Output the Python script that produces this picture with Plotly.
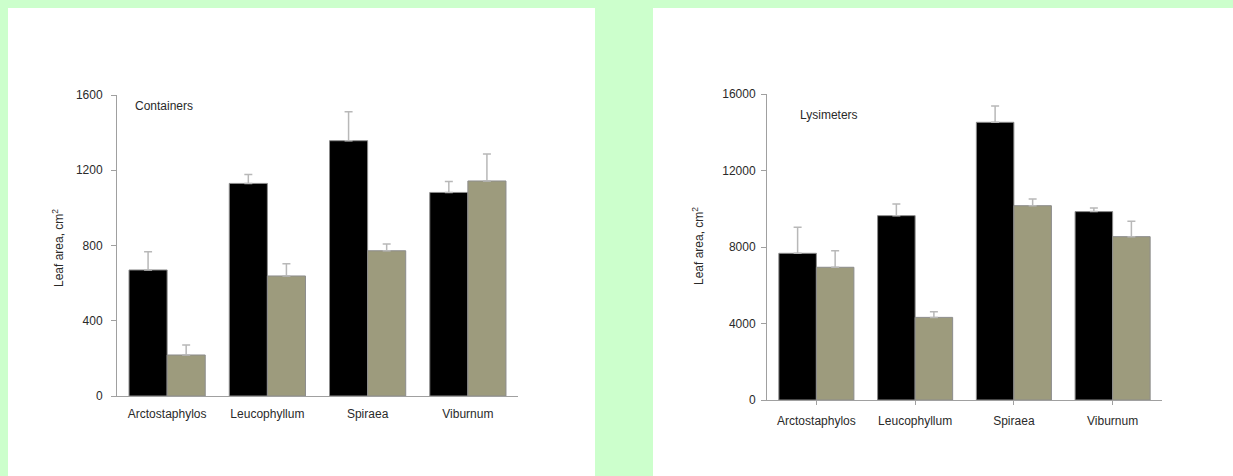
import plotly.graph_objects as go

W, H = 1233, 476

species = ["Arctostaphylos", "Leucophyllum", "Spiraea", "Viburnum"]

# Containers panel: leaf area (cm^2), two treatments, upper error bars
cont_dark = [670, 1130, 1357, 1082]
cont_dark_err = [97, 48, 154, 58]
cont_light = [218, 638, 772, 1143]
cont_light_err = [53, 65, 36, 143]
cont_ticks = [0, 400, 800, 1200, 1600]

# Lysimeters panel
lys_dark = [7670, 9640, 14520, 9850]
lys_dark_err = [1360, 610, 850, 190]
lys_light = [6940, 4320, 10160, 8540]
lys_light_err = [870, 300, 350, 800]
lys_ticks = [0, 4000, 8000, 12000, 16000]

DARK = "#000000"
LIGHT = "#9d9b7d"
AXIS = "#a0a0a0"
TEXT = "#2a2a2a"
FONT = "Liberation Sans, Arial, sans-serif"


def px(x):
    return x / W


def py(y):
    return 1 - y / H


fig = go.Figure()


def add_pair(dark, dark_err, light, light_err, xa, ya):
    for vals, errs, col in ((dark, dark_err, DARK), (light, light_err, LIGHT)):
        fig.add_trace(go.Bar(
            x=species, y=vals, xaxis=xa, yaxis=ya,
            marker=dict(color=col, line=dict(color="#8c8c8c", width=1)),
            error_y=dict(type="data", array=errs, arrayminus=[0] * len(errs),
                         symmetric=False, color="#b8b8b8", thickness=1.5, width=4),
            showlegend=False, hoverinfo="skip",
        ))


add_pair(cont_dark, cont_dark_err, cont_light, cont_light_err, "x", "y")
add_pair(lys_dark, lys_dark_err, lys_light, lys_light_err, "x2", "y2")

axis_common = dict(showgrid=False, zeroline=False, showline=True,
                   linecolor=AXIS, linewidth=1, automargin=False,
                   tickfont=dict(family=FONT, size=12, color=TEXT))

fig.update_layout(
    template="none",
    width=W, height=H, autosize=False,
    margin=dict(l=0, r=0, t=0, b=0, pad=0),
    paper_bgcolor="#ccffcc",
    plot_bgcolor="rgba(0,0,0,0)",
    barmode="group", bargap=0.24, bargroupgap=0,
    xaxis=dict(domain=[px(117), px(518)], anchor="y", ticks="",
               range=[-0.5, 3.5], ticklabelstandoff=7, **axis_common),
    yaxis=dict(domain=[py(396), py(95)], anchor="x", range=[0, 1600],
               tickvals=cont_ticks, ticks="outside", ticklen=5,
               tickcolor=AXIS, ticklabelstandoff=6, **axis_common),
    xaxis2=dict(domain=[px(767), px(1162)], anchor="y2", ticks="outside",
                ticklen=4, tickcolor=AXIS, range=[-0.5, 3.5],
                ticklabelstandoff=6, **axis_common),
    yaxis2=dict(domain=[py(400), py(94)], anchor="x2", range=[0, 16000],
                tickvals=lys_ticks, ticktext=[str(v) for v in lys_ticks],
                ticks="outside", ticklen=5,
                tickcolor=AXIS, ticklabelstandoff=3, **axis_common),
    shapes=[
        dict(type="rect", xref="paper", yref="paper", layer="below",
             x0=px(8), x1=px(595), y0=0, y1=py(8),
             fillcolor="white", line=dict(width=0)),
        dict(type="rect", xref="paper", yref="paper", layer="below",
             x0=px(653), x1=1, y0=0, y1=py(8),
             fillcolor="white", line=dict(width=0)),
    ],
    annotations=[
        dict(text="Containers", xref="paper", yref="paper",
             x=px(133), y=py(106), xanchor="left", yanchor="middle",
             showarrow=False, font=dict(family=FONT, size=12, color=TEXT)),
        dict(text="Lysimeters", xref="paper", yref="paper",
             x=px(798), y=py(115), xanchor="left", yanchor="middle",
             showarrow=False, font=dict(family=FONT, size=12, color=TEXT)),
        dict(text="Leaf area, cm<sup>2</sup>", xref="paper", yref="paper",
             x=px(58), y=py(248), textangle=-90, xanchor="center",
             yanchor="middle", showarrow=False,
             font=dict(family=FONT, size=12, color=TEXT)),
        dict(text="Leaf area, cm<sup>2</sup>", xref="paper", yref="paper",
             x=px(698), y=py(246), textangle=-90, xanchor="center",
             yanchor="middle", showarrow=False,
             font=dict(family=FONT, size=12, color=TEXT)),
    ],
)

fig.write_html("out.html")
